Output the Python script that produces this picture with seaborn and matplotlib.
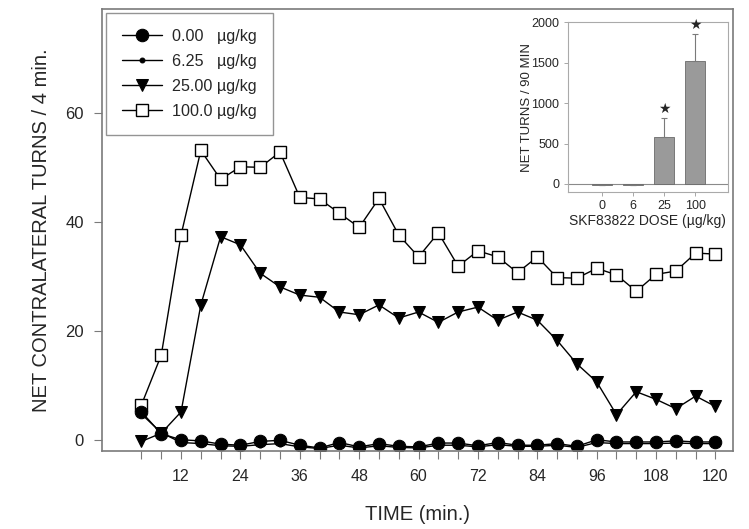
import matplotlib
matplotlib.use("Agg")
import matplotlib.pyplot as plt
import numpy as np
import pandas as pd
import seaborn as sns

# time course (min) and net contralateral turns per 4 min
time_min = list(range(4, 124, 4))

dose_0 = [5.2, 1.2, 0.1, -0.1, -0.7, -0.9, -0.2, 0.0, -0.9, -1.4,
          -0.4, -1.2, -0.6, -1.1, -1.2, -0.5, -0.5, -1.0, -0.4, -0.9,
          -0.9, -0.6, -1.1, 0.1, -0.3, -0.3, -0.3, -0.1, -0.3, -0.3]
dose_625 = [4.8, 1.4, -0.4, -0.6, -1.0, -1.1, -0.8, -0.6, -1.2, -1.5,
            -0.9, -1.4, -1.0, -1.3, -1.4, -0.9, -0.9, -1.2, -0.8, -1.1,
            -1.1, -0.9, -1.3, -0.4, -0.6, -0.6, -0.6, -0.5, -0.6, -0.6]
dose_25 = [-0.2, 1.3, 5.2, 24.8, 37.3, 35.8, 30.6, 28.1, 26.6, 26.2,
           23.5, 23.0, 24.8, 22.4, 23.5, 21.6, 23.5, 24.4, 22.0, 23.5,
           22.0, 18.3, 14.0, 10.7, 4.7, 8.9, 7.5, 5.8, 8.1, 6.2]
dose_100 = [6.5, 15.6, 37.6, 53.1, 47.8, 50.1, 50.0, 52.8, 44.5, 44.2,
            41.6, 39.0, 44.3, 37.6, 33.6, 38.0, 31.9, 34.7, 33.6, 30.7,
            33.6, 29.8, 29.7, 31.5, 30.3, 27.3, 30.4, 31.0, 34.3, 34.1]

# inset: total net turns over 90 min by dose
inset_doses = ["0", "6", "25", "100"]
inset_turns = [-12, -10, 575, 1515]
inset_err = [0, 0, 235, 340]
inset_sig = [False, False, True, True]

sns.set_style("ticks")
plt.rcParams["font.family"] = ["Liberation Sans", "DejaVu Sans"]

fig = plt.figure(figsize=(7.49, 5.29), dpi=100)
ax = fig.add_axes([0.136, 0.147, 0.843, 0.836])

grey = "#7a7a7a"
series = [
    ("100.0 µg/kg", dose_100, dict(marker="s", markersize=8,
                                  markerfacecolor="white",
                                  markeredgecolor="black",
                                  markeredgewidth=1.0)),
    ("25.00 µg/kg", dose_25, dict(marker="v", markersize=8.5,
                                  markerfacecolor="black",
                                  markeredgecolor="black")),
    ("6.25   µg/kg", dose_625, dict(marker="o", markersize=3.5,
                                    markerfacecolor="black",
                                    markeredgecolor="black")),
    ("0.00   µg/kg", dose_0, dict(marker="o", markersize=9,
                                  markerfacecolor="black",
                                  markeredgecolor="black")),
]
for label, values, style in series:
    df = pd.DataFrame({"time": time_min, "turns": values})
    sns.lineplot(data=df, x="time", y="turns", ax=ax, color="black",
                 linewidth=1.0, label=label, **style)

ax.set_xlim(-4, 123.6)
ax.set_ylim(-2, 79)
ax.set_xticks(np.arange(12, 121, 12))
ax.set_xticks(time_min, minor=True)
ax.set_yticks([0, 20, 40, 60])
ax.tick_params(axis="both", which="both", direction="out", length=6,
               width=0.8, color=grey, pad=7)
ax.tick_params(axis="x", labelsize=11.5)
ax.tick_params(axis="y", labelsize=12)
for s in ax.spines.values():
    s.set_color(grey)
    s.set_linewidth(1.2)
ax.set_xlabel("TIME (min.)", fontsize=14.5, labelpad=15)
ax.set_ylabel("NET CONTRALATERAL TURNS / 4 min.", fontsize=14.5,
              labelpad=10)

handles, labels = ax.get_legend_handles_labels()
leg = ax.legend(handles[::-1], labels[::-1], loc="upper left",
                fontsize=11.6, frameon=True, fancybox=False,
                borderaxespad=0.25, handlelength=2.5, handletextpad=0.62,
                labelspacing=0.62, borderpad=1.0)
leg.get_frame().set_edgecolor(grey)
leg.get_frame().set_linewidth(1.0)

# inset bar chart
ins = fig.add_axes([0.758, 0.637, 0.214, 0.321])
sns.barplot(x=inset_doses, y=inset_turns, ax=ins, color="#9a9a9a",
            edgecolor="#6a6a6a", linewidth=0.6, width=0.65)
ins.errorbar(range(len(inset_doses)), inset_turns,
             yerr=[np.zeros(len(inset_err)), inset_err], fmt="none",
             ecolor="#7a7a7a", elinewidth=0.8, capsize=2, capthick=0.8)
for i, (m, e, sig) in enumerate(zip(inset_turns, inset_err, inset_sig)):
    if sig:
        ins.text(i, m + e + 30, "★", ha="center", va="bottom",
                 fontsize=10, family=["DejaVu Sans"])
ins.axhline(0, color="#8a8a8a", linewidth=0.8, zorder=0)
ins.set_xlim(-1.1, 4.05)
ins.set_ylim(-100, 2000)
ins.set_yticks([0, 500, 1000, 1500, 2000])
ins.tick_params(axis="both", direction="out", length=3, width=0.6,
                color="#999999", labelsize=9, pad=3)
for s in ins.spines.values():
    s.set_color("#aaaaaa")
    s.set_linewidth(0.8)
ins.set_xlabel("SKF83822 DOSE (µg/kg)", fontsize=10, labelpad=1)
ins.set_ylabel("NET TURNS / 90 MIN", fontsize=9.5, labelpad=-1)

fig.savefig("out.png", dpi=100)
